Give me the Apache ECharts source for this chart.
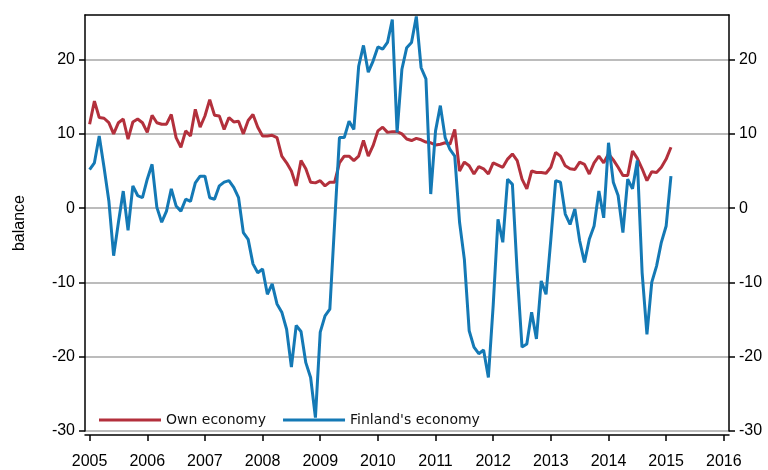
<!DOCTYPE html>
<html>
<head>
<meta charset="utf-8">
<script src="https://cdn.jsdelivr.net/npm/echarts@6/dist/echarts.min.js"></script>
<style>
html, body { margin: 0; padding: 0; background: #fff; }
#main { width: 768px; height: 470px; }
</style>
</head>
<body>
<div id="main"></div>
<script>
// monthly series, Jan 2005 .. Feb 2015
var startYear = 2005;
var ownEconomy = [
    11.3, 14.4, 12.2, 12.1, 11.5, 10.0, 11.5, 12.0, 9.3, 11.6, 12.0, 11.5,
    10.2, 12.5, 11.5, 11.3, 11.3, 12.6, 9.5, 8.2, 10.4, 9.7, 13.3, 10.9,
    12.4, 14.6, 12.5, 12.4, 10.6, 12.2, 11.6, 11.7, 10.0, 11.8, 12.6, 10.9,
    9.7, 9.7, 9.8, 9.5, 7.0, 6.1, 5.0, 3.0, 6.4, 5.3, 3.5, 3.4,
    3.7, 3.0, 3.5, 3.5, 6.1, 7.0, 7.0, 6.4, 7.0, 9.1, 7.0, 8.4,
    10.4, 10.9, 10.2, 10.3, 10.3, 10.0, 9.3, 9.1, 9.4, 9.2, 8.9, 8.8,
    8.5, 8.6, 8.8, 8.6, 10.6, 5.0, 6.2, 5.7, 4.6, 5.6, 5.3, 4.6,
    6.1, 5.8, 5.5, 6.6, 7.3, 6.4, 3.9, 2.6, 5.0, 4.8, 4.8, 4.7,
    5.5, 7.5, 7.0, 5.7, 5.3, 5.2, 6.2, 5.9, 4.6, 6.1, 7.0, 6.1,
    7.3, 6.5, 5.5, 4.4, 4.4, 7.7, 6.7, 5.3, 3.7, 4.9, 4.8, 5.5,
    6.6, 8.2
];
var finlandEconomy = [
    5.2, 6.1, 9.7, 5.5, 1.0, -6.4, -1.9, 2.3, -3.0, 3.0, 1.7, 1.4,
    3.9, 5.9, 0.1, -1.9, -0.4, 2.6, 0.3, -0.4, 1.2, 0.9, 3.4, 4.3,
    4.3, 1.4, 1.2, 3.0, 3.5, 3.7, 2.8, 1.4, -3.3, -4.2, -7.5, -8.7,
    -8.2, -11.6, -10.2, -12.9, -14.0, -16.3, -21.4, -15.8, -16.6, -20.8, -22.8, -28.2,
    -16.7, -14.5, -13.6, -2.0, 9.5, 9.5, 11.7, 10.6, 19.1, 21.9, 18.3, 19.8,
    21.7, 21.4, 22.3, 25.4, 10.2, 18.7, 21.6, 22.3, 25.8, 18.9, 17.4, 1.9,
    10.4, 13.8, 9.5, 7.9, 7.0, -1.9, -6.9, -16.5, -18.7, -19.6, -19.1, -22.8,
    -13.1, -1.5, -4.6, 3.9, 3.2, -8.7, -18.7, -18.3, -14.0, -17.6, -9.8, -11.6,
    -4.2, 3.7, 3.5, -0.8, -2.2, -0.1, -4.4, -7.3, -4.2, -2.4, 2.3, -1.3,
    8.8, 3.5, 1.7, -3.3, 3.9, 2.6, 6.4, -8.7, -17.0, -10.0, -7.8, -4.6,
    -2.4, 4.3
];
var yearTicks = [2005, 2006, 2007, 2008, 2009, 2010, 2011, 2012, 2013, 2014, 2015, 2016];
var yTicks = [-30, -20, -10, 0, 10, 20];

function toPairs(values) {
    return values.map(function (v, i) {
        return [startYear + i / 12, v];
    });
}

var myChart = echarts.init(document.getElementById('main'), null, { renderer: 'canvas' });

var tickFont = { fontFamily: 'Liberation Sans', fontSize: 16, color: '#000' };
var axisLine = { show: true, onZero: false, lineStyle: { color: '#000', width: 1.5 } };

// y axis shared settings
function yAxisOf(pos) {
    return {
        type: 'value',
        position: pos,
        min: -30,
        max: 26,
        interval: 10,
        axisLine: axisLine,
        axisTick: { show: true, length: 6, lineStyle: { color: '#000', width: 1.5 }, customValues: yTicks },
        axisLabel: Object.assign({
            margin: 10,
            customValues: yTicks,
            formatter: function (v) { return v % 10 === 0 ? String(v) : ''; }
        }, tickFont),
        splitLine: { show: false }
    };
}

var leftAxis = yAxisOf('left');
leftAxis.name = 'balance';
leftAxis.nameLocation = 'middle';
leftAxis.nameGap = 57;
leftAxis.nameTextStyle = { fontFamily: 'Liberation Sans', fontSize: 16, color: '#000' };
leftAxis.splitLine = { show: true, lineStyle: { color: '#a6a6a6', width: 1.5 } };

var option = {
    backgroundColor: '#fff',
    animation: false,
    grid: { left: 85, right: 39, top: 15, bottom: 38 },
    legend: {
        left: 94,
        top: 408,
        icon: 'rect',
        itemWidth: 62,
        itemHeight: 3,
        itemGap: 17,
        textStyle: { fontFamily: 'DejaVu Sans', fontSize: 14, color: '#111' },
        data: ['Own economy', "Finland's economy"]
    },
    xAxis: [{
        type: 'value',
        min: 2004.92,
        max: 2016.09,
        offset: 4,
        axisLine: axisLine,
        axisTick: { show: true, length: 6, lineStyle: { color: '#000', width: 1.5 }, customValues: yearTicks },
        axisLabel: Object.assign({
            margin: 19,
            customValues: yearTicks,
            formatter: function (v) { return String(v); }
        }, tickFont),
        splitLine: { show: false }
    }, {
        type: 'value',
        position: 'top',
        min: 2004.92,
        max: 2016.09,
        axisLine: axisLine,
        axisTick: { show: false },
        axisLabel: { show: false },
        splitLine: { show: false }
    }],
    yAxis: [leftAxis, yAxisOf('right')],
    series: [{
        name: 'Own economy',
        type: 'line',
        symbol: 'none',
        color: '#b3303c',
        lineStyle: { width: 3 },
        data: toPairs(ownEconomy)
    }, {
        name: "Finland's economy",
        type: 'line',
        symbol: 'none',
        color: '#1479b5',
        lineStyle: { width: 3 },
        data: toPairs(finlandEconomy)
    }]
};

myChart.setOption(option, true);
</script>
</body>
</html>
